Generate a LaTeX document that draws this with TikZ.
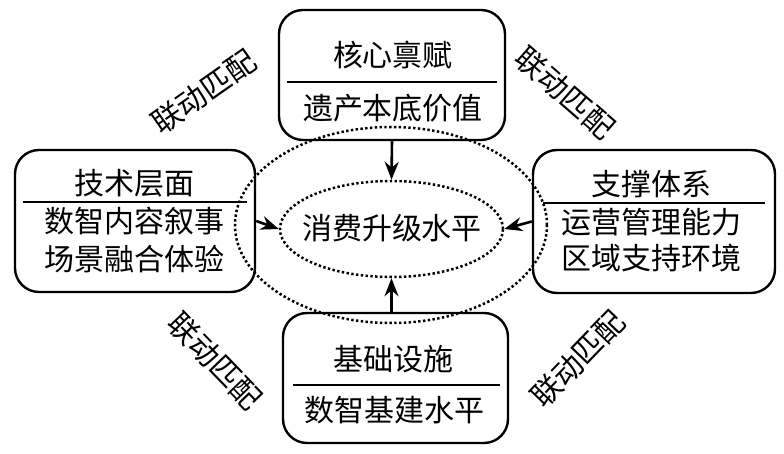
\documentclass[tikz,border=0pt]{standalone}
\usepackage{fontspec}
\newfontfamily\cjk{Noto Sans CJK SC}
\usetikzlibrary{shapes.geometric,arrows.meta}
\begin{document}
\begin{tikzpicture}[x=0.5pt,y=-0.5pt,
  box/.style={draw, line width=1.2pt, rounded corners=12pt, inner sep=0pt},
  txt/.style={font=\cjk\fontsize{15pt}{18pt}\selectfont, inner sep=0pt},
  dotline/.style={line width=1.25pt, dash pattern=on 1.2pt off 1.2pt},
  arr/.style={-{Stealth[length=9pt,width=7pt]}, line width=1.3pt},
  sepline/.style={line width=1.1pt}]
\useasboundingbox (0,0) rectangle (784,454);
% outer dotted ellipse
\node[ellipse, draw, dotline, minimum width=156pt, minimum height=98pt, inner sep=0pt] (outer) at (391,225) {};
% inner ellipse
\node[ellipse, draw, dotline, minimum width=111.5pt, minimum height=48pt, inner sep=0pt] (inner) at (391.5,229) {};
\node[txt] (innertxt) at (392,228) {消费升级水平};
% boxes
\node[box, minimum width=113pt, minimum height=65pt] (top) at (392,75) {};
\node[box, minimum width=120pt, minimum height=71pt] (left) at (135,221) {};
\node[box, minimum width=121pt, minimum height=71.5pt] (right) at (654,221.5) {};
\node[box, minimum width=112.5pt, minimum height=65pt] (bottom) at (395.5,378) {};
% dividers
\coordinate (t1) at (287,82); \coordinate (t2) at (497,82);
\coordinate (l1) at (23,202); \coordinate (l2) at (247,202);
\coordinate (r1) at (543,203); \coordinate (r2) at (765,203);
\coordinate (b1) at (293,385); \coordinate (b2) at (500,385);
\draw[sepline] (t1) -- (t2);
\draw[sepline] (l1) -- (l2);
\draw[sepline] (r1) -- (r2);
\draw[sepline] (b1) -- (b2);
% texts
\node[txt] (tt) at (393,55) {核心禀赋};
\node[txt] (tb) at (393,108) {遗产本底价值};
\node[txt] (lt) at (135,183) {技术层面};
\node[txt] (lb1) at (135,221) {数智内容叙事};
\node[txt] (lb2) at (135,259) {场景融合体验};
\node[txt] (rt) at (651,184) {支撑体系};
\node[txt] (rb1) at (651,222) {运营管理能力};
\node[txt] (rb2) at (651,258) {区域支持环境};
\node[txt] (bt) at (394,359) {基础设施};
\node[txt] (bb) at (395,410) {数智基建水平};
% arrows
\draw[arr] (top.south) -- (inner.north);
\draw[arr] (bottom.north -| inner.south) -- (inner.south);
\draw[arr] (left.east) -- (inner.west);
\draw[arr] (right.west) -- (inner.east);
% labels
\node[txt, rotate=35] (ltl) at (204,92) {联动匹配};
\node[txt, rotate=-41] (ltr) at (565,93) {联动匹配};
\node[txt, rotate=-46] (lbl) at (215,361) {联动匹配};
\node[txt, rotate=46] (lbr) at (578,359) {联动匹配};
\end{tikzpicture}
\end{document}
